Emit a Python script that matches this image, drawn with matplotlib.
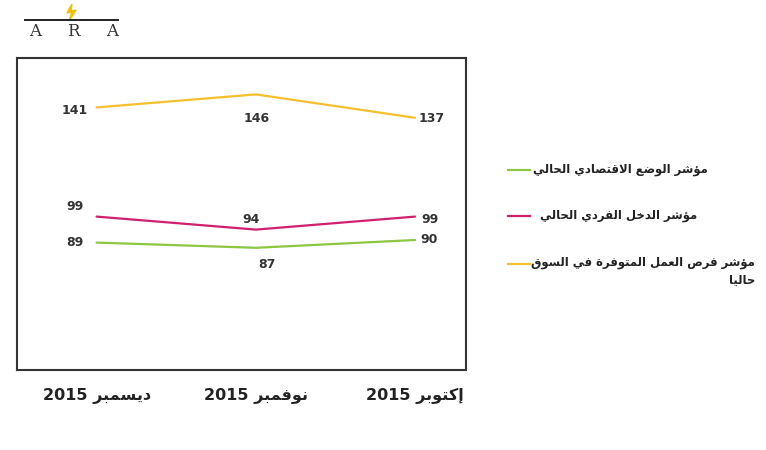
import matplotlib.pyplot as plt
from matplotlib.lines import Line2D
from matplotlib.patches import Polygon

# Data
months = ["ديسمبر", "نوفمبر", "إكتوبر"]
year = "2015"
economic = [89, 87, 90]
income = [99, 94, 99]
jobs = [141, 146, 137]
names = [
    "مؤشر الوضع الاقتصادي الحالي",
    "مؤشر الدخل الفردي الحالي",
    "مؤشر فرص العمل المتوفرة في السوق حاليا",
]

# minimal arabic shaping (presentation forms B) since matplotlib has no bidi
_letters = "ءآأؤإئابةتثجحخدذرزسشصضطظعغفقكلمنهوىي"
_counts = [1, 2, 2, 2, 2, 4, 2, 4, 2, 4, 4, 4, 4, 4, 2, 2, 2, 2, 4, 4, 4, 4,
           4, 4, 4, 4, 4, 4, 4, 4, 4, 4, 4, 2, 2, 4]
FORMS = {}
code = 0xFE80
for ch, n in zip(_letters, _counts):
    FORMS[ch] = (code, n)
    code += n
LAMALEF = {"آ": 0xFEF5, "أ": 0xFEF7, "إ": 0xFEF9, "ا": 0xFEFB}


def ar(s):
    out = []
    i = 0
    while i < len(s):
        ch = s[i]
        if ch not in FORMS:
            out.append(ch)
            i += 1
            continue
        prev = s[i - 1] if i > 0 else ""
        jp = prev in FORMS and FORMS[prev][1] == 4
        if ch == "ل" and i + 1 < len(s) and s[i + 1] in LAMALEF:
            out.append(chr(LAMALEF[s[i + 1]] + (1 if jp else 0)))
            i += 2
            continue
        nxt = s[i + 1] if i + 1 < len(s) else ""
        base, n = FORMS[ch]
        jn = n == 4 and nxt in FORMS and nxt != "ء"
        if n == 1:
            f = 0
        elif jp and jn:
            f = 3
        elif jp:
            f = 1
        elif jn:
            f = 2
        else:
            f = 0
        out.append(chr(base + f))
        i += 1
    return "".join(out)[::-1]


fig = plt.figure(figsize=(7.66, 4.5), dpi=100)
ax = fig.add_axes([0.0222, 0.1778, 0.5862, 0.6933])

colors = ["#8DC641", "#D21F6E", "#F6C02C"]
series = [economic, income, jobs]
x = range(len(months))
for vals, c in zip(series, colors):
    ax.plot(x, vals, color=c, lw=1.6, solid_capstyle="round")

# label offsets in pixels
offsets = [
    [(-22, 0), (11, -17), (14, 0)],
    [(-22, 10), (-5, 10), (15, -3)],
    [(-22, -3), (1, -24), (17, -1)],
]
for vals, offs in zip(series, offsets):
    for xi, v, o in zip(x, vals, offs):
        ax.annotate(str(v), (xi, v), xytext=o, textcoords="offset pixels",
                    ha="center", va="center", fontsize=9,
                    fontweight="bold", color="#333333")

ax.set_xlim(-0.5, 2.32)
ax.set_ylim(40, 160)
ax.set_yticks([])
ax.set_xticks(list(x))
ax.set_xticklabels([year + " " + ar(m) for m in months], fontsize=11.5,
                   fontweight="bold", color="#222222")
ax.tick_params(axis="x", length=0, pad=13)
for sp in ax.spines.values():
    sp.set_color("#333333")
    sp.set_linewidth(1.5)

# legend drawn by hand
W, H = 766, 450
leg_y = [170, 216, 264]
for name, c, y in zip(names, colors, leg_y):
    fig.add_artist(Line2D([508 / W, 530 / W], [1 - y / H, 1 - y / H],
                          color=c, lw=1.6))
fs = 8.4
fig.text(533 / W, 1 - leg_y[0] / H, ar(names[0]), ha="left",
         va="center", fontsize=fs, fontweight="bold", color="#222222")
fig.text(540 / W, 1 - leg_y[1] / H, ar(names[1]), ha="left",
         va="center", fontsize=fs, fontweight="bold", color="#222222")
words = names[2].split(" ")
txt = ar(" ".join(words[:-1])) + "\n" + ar(words[-1])
fig.text(531 / W, 1 - 256 / H, txt, ha="left", va="top",
         multialignment="right", fontsize=fs, fontweight="bold",
         color="#222222", linespacing=1.4)

# ARA logo
fig.add_artist(Line2D([25 / W, 118 / W], [1 - 20 / H, 1 - 20 / H],
                      color="#222222", lw=1.4))
fig.add_artist(Polygon([(72 / W, 1 - 4 / H), (67 / W, 1 - 13 / H),
                        (72 / W, 1 - 12 / H), (69 / W, 1 - 21 / H),
                        (76 / W, 1 - 10 / H), (71 / W, 1 - 11 / H)],
                       closed=True, color="#F2C200"))
for lx, letter in zip([35, 73, 112], "ARA"):
    fig.text(lx / W, 1 - 32 / H, letter, ha="center", va="center",
             fontsize=12, family="DejaVu Serif", color="#333333")

fig.savefig("out.png", dpi=100)
